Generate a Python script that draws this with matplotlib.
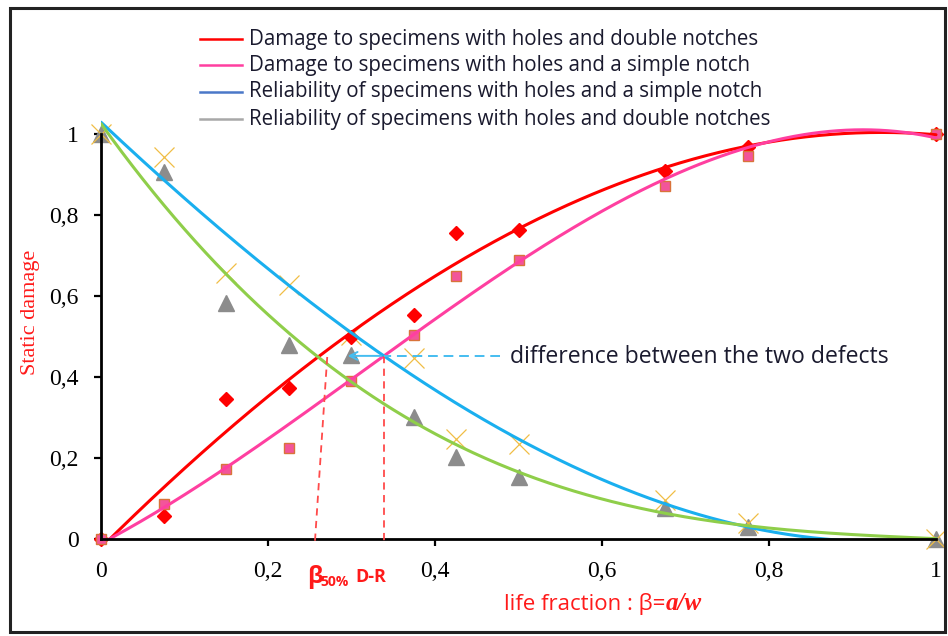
import numpy as np
import matplotlib
matplotlib.use("Agg")
import matplotlib.pyplot as plt
from matplotlib.lines import Line2D
from matplotlib.patches import Rectangle

W, H, DPI = 948, 636, 100

# life fraction beta = a/w
beta = [0, 0.075, 0.15, 0.225, 0.3, 0.375, 0.425, 0.5, 0.675, 0.775, 1.0]
# static damage, specimens with holes and double notches
damage_double = [0, 0.057, 0.345, 0.373, 0.50, 0.553, 0.755, 0.763, 0.909, 0.968, 1.0]
# static damage, specimens with holes and a simple notch
damage_simple = [0, 0.086, 0.173, 0.225, 0.39, 0.504, 0.65, 0.689, 0.872, 0.946, 1.0]
# reliability, specimens with holes and a simple notch
rel_simple = [1.0, 0.943, 0.657, 0.627, 0.504, 0.447, 0.247, 0.235, 0.096, 0.04, 0.0]
# reliability, specimens with holes and double notches
rel_double = [1.0, 0.906, 0.583, 0.479, 0.454, 0.301, 0.202, 0.153, 0.077, 0.03, 0.0]

# trend curve of the simple-notch reliability
rel_simple_trend_x = [0, 0.075, 0.15, 0.225, 0.3, 0.375, 0.5, 0.675, 0.775, 0.9, 1.0]
rel_simple_trend_y = [1.02, 0.895, 0.76, 0.627, 0.505, 0.405, 0.232, 0.09, 0.035, 0.0, -0.005]

tick_values = [0, 0.2, 0.4, 0.6, 0.8, 1.0]
tick_labels = ["0", "0,2", "0,4", "0,6", "0,8", "1"]

legend_labels = [
    "Damage to specimens with holes and double notches",
    "Damage to specimens with holes and a simple notch",
    "Reliability of specimens with holes and a simple notch",
    "Reliability of specimens with holes and double notches",
]
legend_colors = ["#FF0000", "#FF3FA0", "#4A78C8", "#A8A8A8"]

RED = "#FF0000"
PINK = "#FF3FA0"
BLUE = "#1AAFEF"
GREEN = "#8FCE4A"
LABEL_RED = "#FF1A1A"
TEXT = "#1A1A2E"


def fx(px):
    return px / W


def fy(py):
    return 1 - py / H


fig = plt.figure(figsize=(W / DPI, H / DPI), dpi=DPI)
ax = fig.add_axes([fx(101), fy(539), (936 - 101) / W, (539 - 134) / H])

ax.set_xlim(0, 1)
ax.set_ylim(0, 1)

# trendlines (cubic least-squares fits); allowed to run a little above y = 1
xs = np.linspace(0, 1, 400)
curves = [
    (beta, damage_double, RED),
    (beta, damage_simple, PINK),
    (rel_simple_trend_x, rel_simple_trend_y, BLUE),
    (beta, rel_double, GREEN),
]
fits = []
for cx, cy, col in curves:
    p = np.polyfit(cx, cy, 3)
    fits.append(p)
    (ln,) = ax.plot(xs, np.polyval(p, xs), color=col, lw=2.2, zorder=4,
                    solid_capstyle="round")
    ln.set_clip_path(Rectangle((0, 0), 1.01, 1.05, transform=ax.transData))

# measured points
ax.plot(beta, rel_double, linestyle="none", marker="^", ms=12, color="#8C8C8C",
        mec="#8C8C8C", zorder=3, clip_on=False)
ax.plot(beta, rel_simple, linestyle="none", marker="x", ms=14, mew=0.9,
        color="#F0BE45", zorder=3, clip_on=False)
ax.plot(beta, damage_double, linestyle="none", marker="D", ms=7, color=RED,
        mec=RED, zorder=3, clip_on=False)
ax.plot(beta, damage_simple, linestyle="none", marker="s", ms=7, color="#F2559A",
        mec="#D9733A", mew=1.0, zorder=3, clip_on=False)

# axes styling
for side in ("top", "right"):
    ax.spines[side].set_visible(False)
for side in ("left", "bottom"):
    ax.spines[side].set_linewidth(2.0)
    ax.spines[side].set_color("black")
    ax.spines[side].set_zorder(4.5)
ax.set_xticks(tick_values)
ax.set_xticklabels(tick_labels)
ax.set_yticks(tick_values)
ax.set_yticklabels(tick_labels)
ax.tick_params(axis="both", direction="out", length=5, width=1.6, color="black",
               labelsize=17)
ax.tick_params(axis="x", pad=11)
ax.tick_params(axis="y", pad=11)
for lab in ax.get_xticklabels() + ax.get_yticklabels():
    lab.set_fontfamily("Liberation Serif")


# beta 50% markers: drop lines from the curve crossings
def crossing(p1, p2, lo, hi):
    r = np.roots(np.polysub(p1, p2))
    r = [v.real for v in r if abs(v.imag) < 1e-9 and lo <= v.real <= hi]
    x0 = r[0]
    return x0, np.polyval(p1, x0)


x_dr, y_dr = crossing(fits[0], fits[3], 0.15, 0.45)
x_sr, y_sr = crossing(fits[1], fits[2], 0.2, 0.5)
ax.plot([x_dr + 0.011, x_dr - 0.004], [y_dr, -0.015], color="#FF4A4A", lw=1.3,
        ls=(0, (4, 3)), zorder=5, clip_on=False)
ax.plot([x_sr, x_sr], [y_sr, -0.015], color="#FF4A4A", lw=1.3,
        ls=(0, (4, 3)), zorder=5, clip_on=False)

# difference arrow
ax.plot([0.478, x_sr], [y_sr, y_sr], color="#45BDF0", lw=1.4,
        ls=(0, (5, 3)), zorder=5)
ax.annotate("", xy=(0.292, y_sr), xytext=(x_sr, y_sr),
            arrowprops=dict(arrowstyle="->", color="#45BDF0", lw=1.4,
                            mutation_scale=14), zorder=6)
fig.text(fx(510), fy(357), "difference between the two defects",
         fontsize=16.6, family="Open Sans", color=TEXT, va="center", ha="left")

# legend
row_y = [39, 65, 92, 119]
for lab, col, y in zip(legend_labels, legend_colors, row_y):
    fig.add_artist(Line2D([fx(200), fx(242)], [fy(y), fy(y)], color=col, lw=1.8))
    fig.text(fx(249), fy(y), lab, fontsize=14.8, family="Open Sans",
             color=TEXT, va="center", ha="left")

# axis titles
fig.text(fx(31), fy(312), "Static damage", rotation=90, fontsize=16,
         family="Liberation Serif", color=LABEL_RED, va="center", ha="center")
fig.text(fx(665), fy(604), "life fraction : \u03b2=", fontsize=16,
         family="Open Sans", color=LABEL_RED, va="center", ha="right")
fig.text(fx(666), fy(604), "a/w", fontsize=18, family="Liberation Serif",
         style="italic", weight="bold", color=LABEL_RED, va="center", ha="left")

# beta 50% D-R label
fig.text(fx(307), fy(577), "\u03b2", fontsize=17, family="Open Sans",
         weight="bold", color=LABEL_RED, va="center", ha="left")
fig.text(fx(320), fy(582), "50%", fontsize=10, family="Open Sans",
         weight="bold", color=LABEL_RED, va="center", ha="left")
fig.text(fx(355), fy(577), "D-R", fontsize=13, family="Open Sans",
         weight="bold", color=LABEL_RED, va="center", ha="left")

# outer frame
fig.add_artist(Rectangle((fx(10), fy(632)), (945 - 10) / W, (632 - 8) / H,
                         fill=False, ec="#222222", lw=2.2))

fig.savefig("out.png", dpi=DPI)
